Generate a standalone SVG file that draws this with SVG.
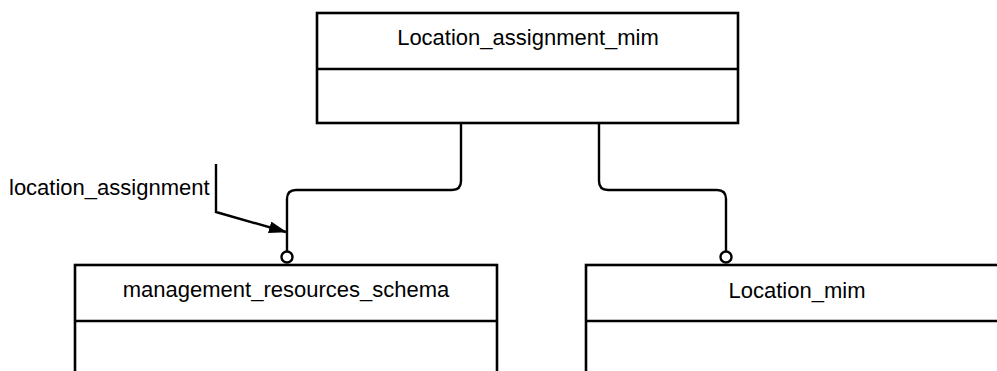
<svg xmlns="http://www.w3.org/2000/svg" width="997" height="371" viewBox="0 0 997 371">
<defs>
<style>
.box{fill:#fff;stroke:#000;stroke-width:2.6}
.ln{fill:none;stroke:#000;stroke-width:2.4}
.t{font-family:"Liberation Sans",Arial,sans-serif;font-size:22px;fill:#000}
.c{fill:#fff;stroke:#000;stroke-width:2.4}
</style>
<marker id="arr" markerWidth="18" markerHeight="12" refX="17" refY="6" orient="auto" markerUnits="userSpaceOnUse">
<path d="M0,0 L18,6 L0,12 Z" fill="#000"/>
</marker>
</defs>
<g id="Location_assignment_mim">
<rect class="box" x="317" y="13" width="421" height="110"/>
<line class="ln" x1="317" y1="69" x2="738" y2="69"/>
<text class="t" x="528" y="45" text-anchor="middle">Location_assignment_mim</text>
</g>
<g id="management_resources_schema">
<rect class="box" x="75" y="265" width="422" height="120"/>
<line class="ln" x1="75" y1="321" x2="497" y2="321"/>
<text class="t" x="286" y="297" text-anchor="middle">management_resources_schema</text>
</g>
<g id="Location_mim">
<rect class="box" x="586" y="265" width="420" height="120"/>
<line class="ln" x1="586" y1="321" x2="1006" y2="321"/>
<text class="t" x="797" y="298" text-anchor="middle">Location_mim</text>
</g>
<g id="connectors">
<path class="ln" d="M461,123 V181 Q461,190 452,190 H296 Q287,190 287,199 V251"/>
<circle class="c" cx="287" cy="257" r="5.5"/>
<path class="ln" d="M599,123 V181 Q599,190 608,190 H717 Q726,190 726,199 V251"/>
<circle class="c" cx="726" cy="257" r="5.5"/>
<path class="ln" d="M216,164 V212 L286,232" marker-end="url(#arr)"/>
<text class="t" x="9" y="195">location_assignment</text>
</g>
</svg>
